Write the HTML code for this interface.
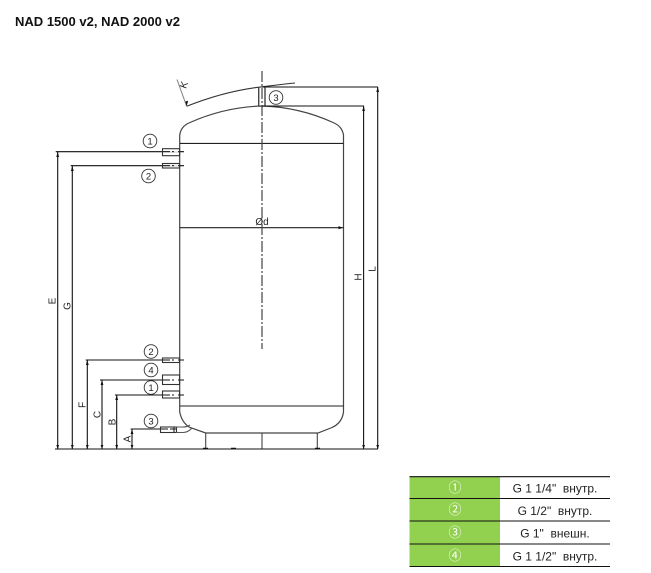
<!DOCTYPE html>
<html>
<head>
<meta charset="utf-8">
<style>
html,body{margin:0;padding:0;background:#fff}
body{width:651px;height:573px;overflow:hidden;position:relative}
svg{position:absolute;left:0;top:0}
</style>
</head>
<body>
<svg width="651" height="573" viewBox="0 0 651 573" xmlns="http://www.w3.org/2000/svg" font-family="'Liberation Sans','DejaVu Sans',sans-serif">
<text x="15" y="26" font-size="12.5" font-weight="700" fill="#111" textLength="165" lengthAdjust="spacingAndGlyphs">NAD 1500 v2, NAD 2000 v2</text>

<g fill="none" stroke="#333" stroke-width="1.1">
<!-- tank -->
<path d="M179.7 412V135Q181 126 190 122.5Q225 107 262 106Q299 107 333 122.5Q342 126 343.5 135V412Q342 423 332 427.5L318 433H205.7L190 427.5Q182 423 179.7 412" stroke="#444" stroke-width="1.2"/>
<path d="M180 143.4H343.5M180 227.7H343.5M180 406H343.5" stroke="#222"/>
<path d="M205.7 433V449M262 433V449M317.3 433V449" stroke="#444"/>
<!-- centre line -->
<path d="M262 71V349" stroke="#444" stroke-width="1.2" stroke-dasharray="11 2 2 2"/>
<!-- outer slope -->
<path d="M186.7 106.3Q225 91 262 86.8Q280 84.5 295 83" stroke="#333"/>
<path d="M186.7 106.3L177 79.5" stroke="#888"/>
<!-- top nozzle -->
<path d="M258.7 87V106M265 87V106" stroke="#444" stroke-width="1.4"/>
<!-- dims top -->
<path d="M262 87H378M262 106H364" stroke="#111"/>
<path d="M377.7 87V449M363.6 106V449" stroke="#111"/>
<!-- baseline -->
<path d="M55 449H378" stroke="#111"/>
<!-- left dims -->
<path d="M55.7 151.7H184M57.7 151.7V449" stroke="#111"/>
<path d="M70.7 165.7H184M72.3 165.7V449" stroke="#111"/>
<path d="M85.7 360H184M87.3 360V449" stroke="#111"/>
<path d="M100 380H184M102 380V449" stroke="#111"/>
<path d="M115 395H184M116.7 395V449" stroke="#111"/>
<path d="M130.7 429H176M132 429V449" stroke="#111"/>
<!-- nozzle boxes -->
<rect x="162.5" y="148.7" width="17" height="7"/>
<rect x="162.5" y="163.5" width="17" height="4.5"/>
<rect x="162.5" y="358" width="17" height="4.5"/>
<rect x="162.5" y="375" width="17" height="9.5"/>
<rect x="162.5" y="391" width="17" height="7"/>
<rect x="160.5" y="427" width="16" height="5.5"/>
<path d="M176 427H183Q187 427 190 425M176 432.5H183Q188 432.5 192 428" stroke="#555"/>
<path d="M174 427V432.5" stroke="#222"/>
<!-- dashes in nozzles -->
<path d="M170 151.7H172M174 151.7H178M170 165.7H172M174 165.7H178M170 360H172M174 360H178M170 380H172M174 380H178M170 395H172M174 395H178M168 429H170" stroke="#fff"/>
<!-- bubbles -->
<g stroke="#333" fill="#fff" stroke-width=".9">
<circle cx="150" cy="141" r="6.8"/>
<circle cx="148.5" cy="176" r="6.8"/>
<circle cx="151" cy="351.5" r="6.8"/>
<circle cx="151" cy="370" r="6.8"/>
<circle cx="151" cy="387.5" r="6.8"/>
<circle cx="151" cy="421" r="6.8"/>
<circle cx="276" cy="97.5" r="6.8"/>
</g>
</g>

<!-- arrowheads -->
<g fill="#111">
<path d="M57.7 152l-1.4 5h2.8zM72.3 166l-1.4 5h2.8zM87.3 360l-1.4 5h2.8zM102 380l-1.4 5h2.8zM116.7 395l-1.4 5h2.8zM132 429l-1.4 5h2.8z"/>
<path d="M377.7 87l-1.4 5h2.8zM363.6 106l-1.4 5h2.8z"/>
<path d="M57.7 449l-1.4-4h2.8zM72.3 449l-1.4-4h2.8zM87.3 449l-1.4-4h2.8zM102 449l-1.4-4h2.8zM116.7 449l-1.4-4h2.8zM132 449l-1.4-4h2.8zM377.7 449l-1.4-4h2.8zM363.6 449l-1.4-4h2.8z"/>
<path d="M343 227.7l-4.5-1.6v3.2zM186.7 106.3l-1.4-4.8 2.8-.8z"/>
<path d="M203 449h5v-1.2h-5zM231 449h5v-1.2h-5zM315 449h5v-1.2h-5z"/>
</g>

<!-- bubble numbers -->
<g font-size="9.5" fill="#222" text-anchor="middle">
<text x="150" y="144.4">1</text>
<text x="148.5" y="179.4">2</text>
<text x="151" y="354.9">2</text>
<text x="151" y="373.4">4</text>
<text x="151" y="390.9">1</text>
<text x="151" y="424.4">3</text>
<text x="276" y="100.9">3</text>
</g>

<!-- dimension labels -->
<g font-size="10" fill="#222" text-anchor="middle">
<text x="262" y="225">Ød</text>
<text transform="translate(361.5 277) rotate(-90)">H</text>
<text transform="translate(375.5 269) rotate(-90)">L</text>
<text transform="translate(55.5 301) rotate(-90)">E</text>
<text transform="translate(70.5 306) rotate(-90)">G</text>
<text transform="translate(85.5 405) rotate(-90)">F</text>
<text transform="translate(100.5 414.5) rotate(-90)">C</text>
<text transform="translate(115.5 422) rotate(-90)">B</text>
<text transform="translate(130.5 439) rotate(-90)">A</text>
<text transform="translate(187 86) rotate(-70)">K</text>
</g>

<!-- table -->
<rect x="409.5" y="477" width="90.5" height="89.5" fill="#92d050"/>
<g stroke="#111" stroke-width="1.1">
<path d="M409.5 476.7H610M409.5 498.5H610M409.5 521H610M409.5 544H610M409.5 566.5H610"/>
</g>
<g font-size="13" fill="#fff" text-anchor="middle" font-family="'Noto Sans CJK JP','DejaVu Sans',sans-serif">
<text x="455" y="492">①</text>
<text x="455" y="514">②</text>
<text x="455" y="537">③</text>
<text x="455" y="560">④</text>
</g>
<g font-size="12" fill="#222" text-anchor="middle">
<text x="555" y="492.5" xml:space="preserve">G 1 1/4"  внутр.</text>
<text x="555" y="515" xml:space="preserve">G 1/2"  внутр.</text>
<text x="555" y="537.5" xml:space="preserve">G 1"  внешн.</text>
<text x="555" y="560.5" xml:space="preserve">G 1 1/2"  внутр.</text>
</g>
</svg>
</body>
</html>
